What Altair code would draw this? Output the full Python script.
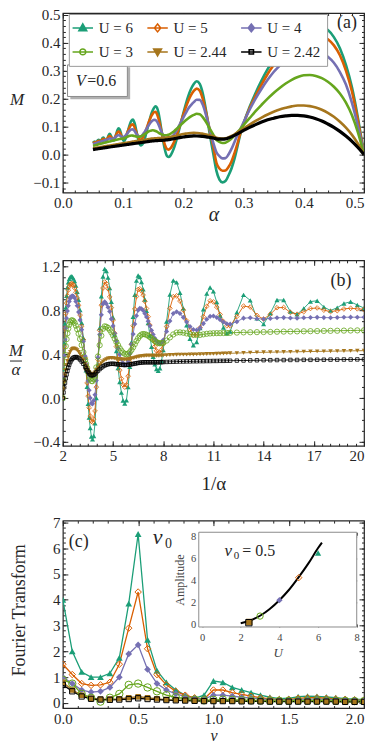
import altair as alt
import pandas as pd

FONT = "Liberation Serif"
INK = "#262626"

# ---------------- series ----------------
labels = ["U = 6", "U = 5", "U = 4", "U = 3", "U = 2.44", "U = 2.42"]
colors = ["#1b9e77", "#d95f02", "#7570b3", "#66a61e", "#a6761d", "#000000"]
shapes = ["triangle-up", "diamond", "diamond", "circle", "triangle-down", "square"]
filled = [True, False, True, False, True, False]

# sampling of alpha (large alpha) and 1/alpha (small alpha)
alpha_hi = [0.50, 0.49, 0.48, 0.47, 0.46, 0.45, 0.44, 0.43, 0.42, 0.41, 0.40, 0.39, 0.38,
            0.37, 0.36, 0.35, 0.34, 0.33, 0.32, 0.31, 0.30, 0.295, 0.29, 0.285, 0.28,
            0.275, 0.27, 0.265, 0.26, 0.255]
inv_alpha_lo = [4.0, 4.1, 4.2, 4.3, 4.4, 4.5, 4.6, 4.7, 4.8, 4.9,
                5.0, 5.1, 5.2, 5.3, 5.4, 5.5, 5.6, 5.7, 5.8, 5.9,
                6.0, 6.1, 6.2, 6.3, 6.4, 6.5, 6.6, 6.7, 6.8, 6.9,
                7.0, 7.1, 7.2, 7.3, 7.4, 7.5, 7.6, 7.7, 7.8, 7.9, 8.0,
                8.2, 8.4, 8.6, 8.8, 9.0, 9.2, 9.4, 9.6, 9.8,
                10.0, 10.2, 10.4, 10.6, 10.8, 11.0, 11.2, 11.4, 11.6, 11.8, 12.0,
                12.4, 12.8, 13.2, 13.6, 14.0, 14.4, 14.8, 15.2, 15.6, 16.0, 16.4, 16.8,
                17.2, 17.6, 18.0, 18.4, 18.8, 19.2, 19.6, 20.0]

# M / alpha for each U (same order as the sampling above)
moa_u6 = [0.0, 0.265, 0.500, 0.681, 0.826, 0.933, 1.011, 1.058, 1.088, 1.105, 1.113, 1.108,
          1.092, 1.068, 1.028, 0.971, 0.897, 0.803, 0.688, 0.548, 0.367, 0.254, 0.103,
          -0.053, -0.179, -0.273, -0.352, -0.377, -0.346, -0.23,
          0.0, 0.3, 0.64, 0.93, 1.11, 1.18, 1.16, 1.10, 1.005, 0.88,
          0.736, 0.58, 0.43, 0.275, 0.147, 0.05, -0.022, -0.05, -0.02, 0.10,
          0.286, 0.51, 0.742, 0.943, 1.073, 1.12, 1.105, 1.06, 0.993, 0.90,
          0.798, 0.685, 0.572, 0.468, 0.377, 0.308, 0.265, 0.25, 0.272, 0.337, 0.438,
          0.699, 0.946, 1.074, 1.057, 0.962, 0.819, 0.665, 0.542, 0.482,
          0.512, 0.639, 0.811, 0.954, 1.01, 0.974, 0.876, 0.753, 0.645, 0.592, 0.608,
          0.783, 0.942, 0.892, 0.728, 0.675, 0.775, 0.896, 0.895, 0.791, 0.765, 0.819,
          0.881, 0.889, 0.831, 0.80, 0.825, 0.864, 0.879, 0.85, 0.822]
moa_u5 = [0.0, 0.245, 0.469, 0.638, 0.772, 0.867, 0.936, 0.986, 1.017, 1.037, 1.045, 1.044,
          1.032, 1.005, 0.967, 0.914, 0.847, 0.758, 0.656, 0.532, 0.367, 0.264, 0.138,
          0.018, -0.089, -0.164, -0.211, -0.219, -0.192, -0.118,
          0.10, 0.353, 0.618, 0.848, 1.005, 1.06, 1.045, 0.998, 0.924, 0.826,
          0.713, 0.592, 0.47, 0.353, 0.254, 0.177, 0.122, 0.10, 0.121, 0.20,
          0.33, 0.49, 0.66, 0.813, 0.928, 0.992, 0.998, 0.978, 0.94, 0.884,
          0.818, 0.743, 0.667, 0.592, 0.527, 0.471, 0.432, 0.412, 0.414, 0.442, 0.495,
          0.653, 0.82, 0.926, 0.934, 0.886, 0.803, 0.707, 0.624, 0.576,
          0.579, 0.642, 0.743, 0.838, 0.888, 0.878, 0.831, 0.764, 0.699, 0.66, 0.659,
          0.745, 0.84, 0.831, 0.755, 0.721, 0.765, 0.825, 0.827, 0.782, 0.766, 0.789,
          0.818, 0.823, 0.803, 0.79, 0.798, 0.814, 0.82, 0.815, 0.81]
moa_u4 = [0.0, 0.204, 0.385, 0.532, 0.641, 0.729, 0.795, 0.844, 0.883, 0.91, 0.928, 0.933,
          0.929, 0.914, 0.883, 0.843, 0.785, 0.712, 0.625, 0.516, 0.383, 0.312, 0.241,
          0.158, 0.071, 0.0, -0.048, -0.053, -0.023, 0.031,
          0.16, 0.37, 0.58, 0.76, 0.86, 0.88, 0.861, 0.83, 0.79, 0.723,
          0.659, 0.59, 0.521, 0.455, 0.397, 0.352, 0.319, 0.302, 0.305, 0.338,
          0.404, 0.489, 0.584, 0.677, 0.752, 0.802, 0.82, 0.815, 0.799, 0.773,
          0.74, 0.702, 0.66, 0.618, 0.58, 0.547, 0.521, 0.505, 0.5, 0.508, 0.53,
          0.609, 0.704, 0.773, 0.789, 0.773, 0.737, 0.694, 0.654, 0.626,
          0.621, 0.641, 0.68, 0.72, 0.746, 0.749, 0.736, 0.715, 0.694, 0.679, 0.675,
          0.698, 0.73, 0.733, 0.725, 0.722, 0.727, 0.733, 0.735, 0.731, 0.73, 0.733,
          0.736, 0.737, 0.735, 0.734, 0.736, 0.738, 0.739, 0.738, 0.738]
moa_u3 = [0.0, 0.159, 0.292, 0.394, 0.474, 0.538, 0.591, 0.635, 0.669, 0.693, 0.708, 0.71,
          0.703, 0.686, 0.661, 0.629, 0.588, 0.539, 0.484, 0.419, 0.35, 0.312, 0.276,
          0.239, 0.204, 0.175, 0.156, 0.155, 0.173, 0.204,
          0.28, 0.38, 0.483, 0.57, 0.633, 0.655, 0.651, 0.641, 0.623, 0.6,
          0.573, 0.543, 0.512, 0.483, 0.455, 0.433, 0.415, 0.404, 0.4, 0.405,
          0.418, 0.439, 0.464, 0.492, 0.521, 0.546, 0.567, 0.58, 0.585, 0.583,
          0.578, 0.569, 0.558, 0.546, 0.533, 0.521, 0.511, 0.503, 0.5, 0.501, 0.505,
          0.525, 0.554, 0.581, 0.598, 0.6, 0.597, 0.59, 0.583, 0.577,
          0.575, 0.577, 0.582, 0.587, 0.59, 0.592, 0.593, 0.593, 0.594, 0.595, 0.596,
          0.598, 0.6, 0.601, 0.602, 0.603, 0.604, 0.606, 0.607, 0.608, 0.609, 0.61,
          0.611, 0.612, 0.613, 0.614, 0.615, 0.616, 0.617, 0.618, 0.619]
moa_u244 = [0.0, 0.078, 0.146, 0.204, 0.254, 0.30, 0.339, 0.372, 0.40, 0.422, 0.438, 0.449,
            0.453, 0.451, 0.447, 0.437, 0.421, 0.40, 0.375, 0.345, 0.31, 0.292, 0.272,
            0.253, 0.236, 0.222, 0.215, 0.215, 0.223, 0.235,
            0.26, 0.28, 0.30, 0.318, 0.335, 0.346, 0.355, 0.361, 0.365, 0.366,
            0.365, 0.363, 0.36, 0.357, 0.355, 0.353, 0.352, 0.351, 0.352, 0.354,
            0.357, 0.361, 0.365, 0.369, 0.373, 0.377, 0.38, 0.383, 0.385, 0.386,
            0.387, 0.387, 0.387, 0.387, 0.386, 0.386, 0.386, 0.386, 0.387, 0.388, 0.389,
            0.391, 0.393, 0.395, 0.396, 0.397, 0.397, 0.397, 0.398, 0.398,
            0.399, 0.40, 0.401, 0.402, 0.403, 0.404, 0.405, 0.406, 0.407, 0.408, 0.409,
            0.411, 0.413, 0.415, 0.417, 0.418, 0.419, 0.42, 0.421, 0.422, 0.423, 0.424,
            0.425, 0.426, 0.427, 0.428, 0.429, 0.43, 0.431, 0.432, 0.433]
moa_u242 = [0.0, 0.051, 0.098, 0.14, 0.18, 0.216, 0.248, 0.279, 0.305, 0.327, 0.345, 0.359,
            0.368, 0.373, 0.375, 0.371, 0.365, 0.352, 0.334, 0.313, 0.287, 0.271, 0.255,
            0.239, 0.225, 0.215, 0.207, 0.208, 0.212, 0.22,
            0.235, 0.25, 0.265, 0.278, 0.29, 0.298, 0.305, 0.309, 0.312, 0.313,
            0.313, 0.312, 0.31, 0.308, 0.306, 0.304, 0.303, 0.302, 0.303, 0.304,
            0.306, 0.309, 0.312, 0.315, 0.318, 0.321, 0.323, 0.325, 0.326, 0.327,
            0.327, 0.327, 0.327, 0.327, 0.327, 0.327, 0.327, 0.327, 0.328, 0.328, 0.329,
            0.33, 0.331, 0.332, 0.333, 0.334, 0.334, 0.335, 0.335, 0.336,
            0.336, 0.337, 0.337, 0.338, 0.338, 0.339, 0.339, 0.34, 0.34, 0.341, 0.341,
            0.342, 0.343, 0.344, 0.345, 0.346, 0.346, 0.347, 0.347, 0.348, 0.348, 0.349,
            0.349, 0.35, 0.35, 0.351, 0.351, 0.352, 0.352, 0.353, 0.353]

# panel (c): Fourier transform
nu = [0.0, 0.0625, 0.125, 0.1875, 0.25, 0.3125, 0.375, 0.4375, 0.5, 0.5625, 0.625, 0.6875,
      0.75, 0.8125, 0.875, 0.9375, 1.0, 1.0625, 1.125, 1.1875, 1.25, 1.3125, 1.375, 1.4375,
      1.5, 1.5625, 1.625, 1.6875, 1.75, 1.8125, 1.875, 1.9375, 2.0]
ft_u6 = [4.0, 2.0, 1.2, 1.0, 1.0, 1.15, 1.75, 3.85, 6.55, 2.45, 1.25, 0.8, 0.5, 0.3, 0.18, 0.3,
         0.85, 0.8, 0.6, 0.5, 0.4, 0.3, 0.22, 0.17, 0.18, 0.24, 0.26, 0.25, 0.23, 0.2, 0.17,
         0.15, 0.13]
ft_u5 = [1.5, 1.1, 0.75, 0.68, 0.7, 0.8, 1.5, 2.9, 4.3, 2.1, 1.1, 0.7, 0.45, 0.3, 0.2, 0.15,
         0.5, 0.5, 0.4, 0.33, 0.26, 0.2, 0.16, 0.13, 0.14, 0.18, 0.2, 0.2, 0.18, 0.16, 0.14,
         0.12, 0.11]
ft_u4 = [1.0, 0.75, 0.5, 0.42, 0.45, 0.6, 1.0, 1.9, 2.25, 1.3, 0.75, 0.5, 0.35, 0.25, 0.18,
         0.15, 0.3, 0.3, 0.26, 0.22, 0.19, 0.16, 0.13, 0.12, 0.12, 0.14, 0.15, 0.15, 0.14,
         0.13, 0.12, 0.11, 0.1]
ft_u3 = [0.9, 0.75, 0.35, 0.2, 0.05, 0.2, 0.35, 0.7, 0.75, 0.6, 0.45, 0.3, 0.22, 0.17, 0.13,
         0.1, 0.12, 0.13, 0.12, 0.11, 0.1, 0.09, 0.08, 0.08, 0.08, 0.09, 0.09, 0.09, 0.09,
         0.08, 0.08, 0.07, 0.07]
ft_u244 = [0.8, 0.5, 0.3, 0.18, 0.15, 0.15, 0.16, 0.2, 0.24, 0.2, 0.16, 0.13, 0.11, 0.1, 0.09,
           0.08, 0.08, 0.08, 0.08, 0.07, 0.07, 0.07, 0.06, 0.06, 0.06, 0.06, 0.06, 0.06,
           0.06, 0.05, 0.05, 0.05, 0.05]
ft_u242 = [0.7, 0.45, 0.25, 0.16, 0.13, 0.12, 0.13, 0.15, 0.18, 0.15, 0.13, 0.11, 0.1, 0.09,
           0.08, 0.07, 0.07, 0.07, 0.07, 0.06, 0.06, 0.06, 0.05, 0.05, 0.05, 0.05, 0.05,
           0.05, 0.05, 0.05, 0.04, 0.04, 0.04]

# inset: amplitude at nu0 = 0.5
inset_u = [6, 5, 4, 3, 2.44, 2.42]
inset_amp = [6.5, 4.25, 2.2, 0.75, 0.22, 0.15]
fit_u = [2.0, 2.5, 3.0, 3.5, 4.0, 4.5, 5.0, 5.5, 6.0, 6.2]
fit_amp = [0.1, 0.35, 0.78, 1.4, 2.2, 3.15, 4.3, 5.55, 6.95, 7.45]

# ---------------- tables ----------------
inv_alpha = [round(1.0 / a, 5) for a in alpha_hi] + inv_alpha_lo
moa_all = [moa_u6, moa_u5, moa_u4, moa_u3, moa_u244, moa_u242]
rows = []
for lab, vals in zip(labels, moa_all):
    for xv, yv in zip(inv_alpha, vals):
        rows.append({"label": lab, "inv_alpha": xv, "moa": yv})
df_ab = pd.DataFrame(rows)

ft_all = [ft_u6, ft_u5, ft_u4, ft_u3, ft_u244, ft_u242]
rows = []
for lab, vals in zip(labels, ft_all):
    for xv, yv in zip(nu, vals):
        rows.append({"label": lab, "nu": xv, "ft": yv})
df_c = pd.DataFrame(rows)
df_in = pd.DataFrame({"label": labels, "U": inset_u, "amp": inset_amp})
df_fit = pd.DataFrame({"U": fit_u, "amp": fit_amp})
one = pd.DataFrame({"k": [0]})

W = 302
HA, HB, HC = 180, 186, 188
TMAJ, TMIN = 5, 2.5
TW = dict(titleFont=FONT, titleColor=INK, titleFontWeight="normal")


def txt(s, x, y, size, style="normal", align="center"):
    return alt.Chart(one).mark_text(text=s, font=FONT, fontSize=size, fontStyle=style,
                                    align=align, baseline="middle", color=INK).encode(
        x=alt.value(x), y=alt.value(y))


def box(x1, x2, y1, y2, fill, stroke=None, sw=1.0):
    kw = dict(fill=fill)
    if stroke:
        kw.update(stroke=stroke, strokeWidth=sw)
    return alt.Chart(one).mark_rect(**kw).encode(
        x=alt.value(x1), x2=alt.value(x2), y=alt.value(y1), y2=alt.value(y2))


def frame_axes(xs, ys, xmid, ymid, xmaj, xmin, ymaj, ymin, xfmt, yfmt, xextra, yextra):
    d = pd.DataFrame({"fx": [xmid], "fy": [ymid]})
    base = alt.Chart(d).mark_point(opacity=0)
    com = dict(domain=False, grid=False, tickColor=INK, tickWidth=1, labelFlush=False,
               labelOverlap=False, labelFont=FONT, labelFontSize=15, labelColor=INK)
    # the last x label is right-aligned so that it stays inside the page
    last_align = {"condition": {"test": "datum.value >= %s" % xmaj[-1], "value": "right"},
                  "value": "center"}
    out = [base.encode(
        x=alt.X("fx:Q", scale=xs, axis=alt.Axis(orient="bottom", values=xmaj, format=xfmt,
                                                tickSize=TMAJ, offset=-TMAJ, labelPadding=3,
                                                labelAlign=last_align, **com, **xextra)),
        y=alt.Y("fy:Q", scale=ys, axis=alt.Axis(orient="left", values=ymaj, format=yfmt,
                                                tickSize=TMAJ, offset=-TMAJ, labelPadding=3,
                                                **com, **yextra)))]
    for orx, ory, vx, vy, ts in [("bottom", "left", xmin, ymin, TMIN),
                                 ("top", "right", xmaj, ymaj, TMAJ),
                                 ("top", "right", xmin, ymin, TMIN)]:
        out.append(base.encode(
            x=alt.X("fx:Q", scale=xs, axis=alt.Axis(orient=orx, values=vx, labels=False,
                                                    tickSize=ts, offset=-ts, title=None, **com)),
            y=alt.Y("fy:Q", scale=ys, axis=alt.Axis(orient=ory, values=vy, labels=False,
                                                    tickSize=ts, offset=-ts, title=None, **com))))
    return out


def steps(a, b, s):
    n = int(round((b - a) / s))
    return [round(a + i * s, 4) for i in range(n + 1)]


# ---------------- panel (a) ----------------
xs_a = alt.Scale(domain=[0, 0.5], zero=False, nice=False)
ys_a = alt.Scale(domain=[-0.136, 0.506], zero=False, nice=False)
a_layers = []
for lab, col in zip(labels, colors):
    a_layers.append(
        alt.Chart(df_ab).transform_filter(alt.datum.label == lab)
        .transform_calculate(alpha="1 / datum.inv_alpha", M="datum.moa / datum.inv_alpha")
        .mark_line(color=col, strokeWidth=3.2 if col == "#000000" else 2.6,
                   interpolate="monotone", clip=True)
        .encode(x=alt.X("alpha:Q", scale=xs_a, axis=None),
                y=alt.Y("M:Q", scale=ys_a, axis=None)))

legend_paths = ["M-1.45,0H1.45M0,-0.58L0.56,0.4L-0.56,0.4Z",
                "M-1.45,0H1.45M0,-0.56L0.45,0L0,0.56L-0.45,0Z",
                "M-1.45,0H1.45M0,-0.56L0.45,0L0,0.56L-0.45,0Z",
                "M-1.45,0H1.45M0.42,0A0.42,0.42,0,1,1,-0.42,0A0.42,0.42,0,1,1,0.42,0Z",
                "M-1.45,0H1.45M0,0.58L0.56,-0.4L-0.56,-0.4Z",
                "M-1.45,0H1.45M-0.31,-0.31H0.31V0.31H-0.31Z"]
legend_fills = [c if f else "white" for c, f in zip(colors, filled)]
leg = alt.Legend(title=None, orient="none", legendX=6, legendY=1, columns=3,
                 direction="horizontal", gridAlign="each", symbolSize=200,
                 symbolStrokeWidth=1.5, labelFont=FONT, labelFontSize=15, labelColor=INK,
                 labelOffset=8, strokeColor="#9a9a9a", fillColor="white", padding=6,
                 rowPadding=8, columnPadding=10)
legend_layer = alt.Chart(pd.DataFrame({"label": labels})).mark_point(
    clip=True, opacity=1, strokeWidth=1.5, size=200).encode(
    x=alt.value(-300), y=alt.value(-300),
    shape=alt.Shape("label:N", scale=alt.Scale(domain=labels, range=legend_paths), legend=leg),
    fill=alt.Fill("label:N", scale=alt.Scale(domain=labels, range=legend_fills), legend=leg),
    stroke=alt.Stroke("label:N", scale=alt.Scale(domain=labels, range=colors), legend=leg))

a_ann = [box(7.5, 67.5, 54.5, 86.5, "#b0b0b0"),
         box(4.7, 64.7, 52, 83.7, "white", "#8c8c8c", 1),
         txt("V", 18, 68, 16, "italic"),
         txt("=0.6", 24.5, 68, 16, align="left"),
         txt("(a)", 285, 10, 18)]
a_axes = frame_axes(
    xs_a, ys_a, 0.25, 0.2, steps(0, 0.5, 0.1), steps(0, 0.5, 0.02),
    steps(-0.1, 0.5, 0.1), steps(-0.12, 0.5, 0.02), ".1f", ".1f",
    dict(title="α", titleFontSize=20, titleFontStyle="italic",
         titleBaseline="middle", titleY=27, **TW),
    dict(title="M", titleFontSize=17, titleFontStyle="italic",
         titleAngle=0, titleX=-51.5, titleY=86.5, titleAlign="center",
         titleBaseline="middle", **TW))
panel_a = alt.layer(*a_axes, *a_layers, *a_ann, legend_layer).resolve_axis(
    x="independent", y="independent").properties(width=W, height=HA)

# ---------------- panel (b) ----------------
xs_b = alt.Scale(domain=[2, 20], zero=False, nice=False)
ys_b = alt.Scale(domain=[-0.436, 1.258], zero=False, nice=False)
b_sizes = [26, 22, 26, 28, 20, 12]
b_layers = []
for lab, col in zip(labels, colors):
    b_layers.append(
        alt.Chart(df_ab).transform_filter(alt.datum.label == lab)
        .mark_line(color=col, strokeWidth=0.9, clip=True)
        .encode(x=alt.X("inv_alpha:Q", scale=xs_b, axis=None),
                y=alt.Y("moa:Q", scale=ys_b, axis=None)))
for lab, col, shp, f, sz in zip(labels, colors, shapes, filled, b_sizes):
    b_layers.append(
        alt.Chart(df_ab).transform_filter(alt.datum.label == lab)
        .mark_point(color=col, shape=shp, filled=f, size=sz, opacity=1,
                    strokeWidth=0.8, clip=True)
        .encode(x=alt.X("inv_alpha:Q", scale=xs_b, axis=None),
                y=alt.Y("moa:Q", scale=ys_b, axis=None)))
b_ann = [txt("M", -47, 91, 17, "italic"),
         alt.Chart(one).mark_rule(color=INK, strokeWidth=1).encode(
             x=alt.value(-53), x2=alt.value(-41), y=alt.value(101)),
         txt("α", -47, 110, 17, "italic"),
         txt("(b)", 279, 21, 18)]
b_axes = frame_axes(
    xs_b, ys_b, 10, 0.4, steps(2, 20, 3), steps(2, 20, 0.5),
    steps(-0.4, 1.2, 0.4), steps(-0.4, 1.2, 0.1), "d", ".1f",
    dict(title="1/α", titleFontSize=19, titleBaseline="middle", titleY=43, **TW),
    dict(title=None))
panel_b = alt.layer(*b_axes, *b_layers, *b_ann).resolve_axis(
    x="independent", y="independent").properties(width=W, height=HB)

# ---------------- panel (c) ----------------
xs_c = alt.Scale(domain=[0, 2], zero=False, nice=False)
ys_c = alt.Scale(domain=[-0.2, 7.07], zero=False, nice=False)
c_sizes = [45, 42, 45, 55, 30, 28]
c_layers = []
for lab, col in zip(labels, colors):
    c_layers.append(
        alt.Chart(df_c).transform_filter(alt.datum.label == lab)
        .mark_line(color=col, strokeWidth=1.3, clip=True)
        .encode(x=alt.X("nu:Q", scale=xs_c, axis=None),
                y=alt.Y("ft:Q", scale=ys_c, axis=None)))
c_shapes = ["triangle-up", "diamond", "diamond", "circle", "square", "square"]
for lab, col, shp, f, sz in zip(labels, colors, c_shapes, filled, c_sizes):
    c_layers.append(
        alt.Chart(df_c).transform_filter(alt.datum.label == lab)
        .mark_point(color=col, shape=shp, filled=f, size=sz, opacity=1, strokeWidth=1,
                    clip=True)
        .encode(x=alt.X("nu:Q", scale=xs_c, axis=None),
                y=alt.Y("ft:Q", scale=ys_c, axis=None)))
c_ann = [txt("(c)", 6, 21, 18, align="left"),
         txt("ν", 95, 16, 22, "italic"),
         txt("0", 106, 23, 14)]
c_axes = frame_axes(
    xs_c, ys_c, 1.0, 3.0, steps(0, 2, 0.5), steps(0, 2, 0.1),
    steps(0, 7, 1), steps(0, 7, 0.2), ".1f", "d",
    dict(title="ν", titleFontSize=16, titleFontStyle="italic",
         titleBaseline="middle", titleY=33, **TW),
    dict(title="Fourier Transform", titleFontSize=18,
         titleX=-48, titleY=89.5, titleBaseline="middle", titleAlign="center", **TW))
main_c = alt.layer(*c_axes, *c_layers, *c_ann).resolve_axis(
    x="independent", y="independent")

# inset
IX0, IX1, IY0, IY1 = 136.3, 294.7, 11.7, 106.7
xs_in = alt.Scale(domain=[-0.17, 8.0], range=[IX0, IX1], zero=False, nice=False)
ys_in = alt.Scale(domain=[-0.245, 8.39], range=[IY1, IY0], zero=False, nice=False)
in_layers = [box(IX0, IX1, IY0, IY1, "white", "#8c8c8c", 1)]
in_layers.append(alt.Chart(df_fit).mark_line(color="black", strokeWidth=2,
                                             interpolate="monotone").encode(
    x=alt.X("U:Q", scale=xs_in, axis=None), y=alt.Y("amp:Q", scale=ys_in, axis=None)))
for lab, col, shp, f in zip(labels, colors, c_shapes, filled):
    in_layers.append(
        alt.Chart(df_in).transform_filter(alt.datum.label == lab)
        .mark_point(color=col, shape=shp, filled=f, size=40, opacity=1, strokeWidth=1)
        .encode(x=alt.X("U:Q", scale=xs_in, axis=None),
                y=alt.Y("amp:Q", scale=ys_in, axis=None)))
in_layers += [txt("ν", 166, 31, 17, "italic"), txt("0", 174, 36, 11),
              txt("= 0.5", 180, 31, 16, align="left")]
dIn = pd.DataFrame({"fx": [4.0], "fy": [4.0]})
icom = dict(domain=False, grid=False, tickColor="#555555", tickWidth=1, labelFlush=False,
            labelOverlap=False, labelFont=FONT, labelFontSize=10.5, labelColor="#444444")
ticks_in = [0, 2, 4, 6, 8]
in_axes = [
    alt.Chart(dIn).mark_point(opacity=0).encode(
        x=alt.X("fx:Q", scale=xs_in, axis=alt.Axis(
            orient="bottom", values=ticks_in, format="d", tickSize=3,
            offset=-(HC - IY1) - 3, labelPadding=6, title="U", titleFont=FONT,
            titleFontSize=13, titleFontStyle="italic", titleColor="#444444",
            titleFontWeight="normal", titlePadding=3, **icom)),
        y=alt.Y("fy:Q", scale=ys_in, axis=alt.Axis(
            orient="left", values=ticks_in, format="d", tickSize=3, offset=-IX0 - 3,
            labelPadding=3, title="Amplitude", titleFont=FONT, titleFontSize=12,
            titleColor="#444444", titleFontWeight="normal", titlePadding=4, **icom))),
    alt.Chart(dIn).mark_point(opacity=0).encode(
        x=alt.X("fx:Q", scale=xs_in, axis=alt.Axis(
            orient="top", values=ticks_in, labels=False, tickSize=3, offset=-IY0 - 3,
            title=None, **icom)),
        y=alt.Y("fy:Q", scale=ys_in, axis=alt.Axis(
            orient="right", values=ticks_in, labels=False, tickSize=3,
            offset=-(W - IX1) - 3, title=None, **icom)))]
inset_c = alt.layer(*in_layers, *in_axes).resolve_axis(x="independent", y="independent")

panel_c = alt.layer(main_c, inset_c).resolve_scale(
    x="independent", y="independent").properties(width=W, height=HC)

# ---------------- assemble ----------------
lower = alt.vconcat(panel_b, panel_c, spacing=75, bounds="flush")
chart = alt.vconcat(panel_a, lower, spacing=68, bounds="flush").resolve_scale(
    shape="independent", fill="independent", stroke="independent").properties(
    padding={"left": 0, "top": -2, "right": 0, "bottom": -2.5}, background="white"
).configure(font=FONT).configure_view(stroke=INK, strokeWidth=1.2)

chart.save("out.html", embed_options={"renderer": "svg", "actions": False})
